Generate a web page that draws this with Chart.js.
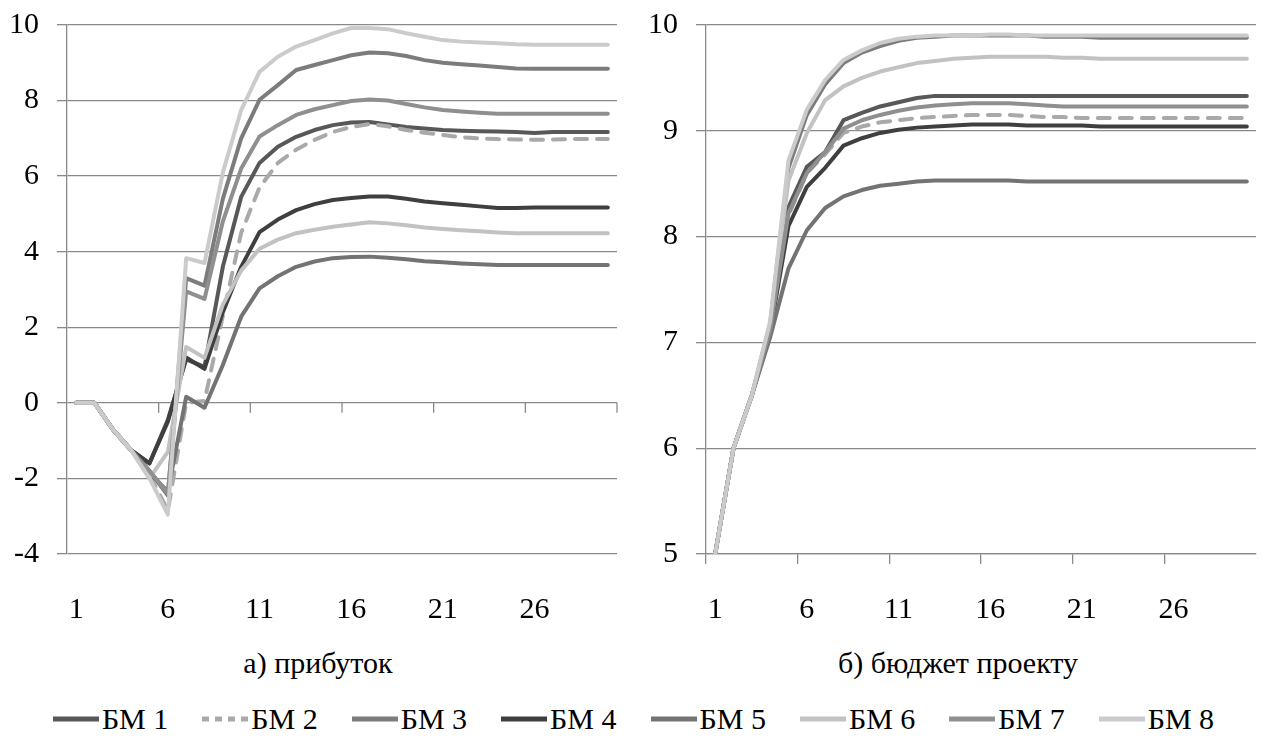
<!DOCTYPE html>
<html>
<head>
<meta charset="utf-8">
<script src="https://cdn.jsdelivr.net/npm/chart.js@4.4.1/dist/chart.umd.min.js"></script>
<style>
  body { margin: 0; background: #fff; width: 1265px; height: 747px; overflow: hidden; font-family: "Liberation Serif", "Times New Roman", "Tinos", "Nimbus Roman", "FreeSerif", serif; }
  .box { position: absolute; top: 0; height: 640px; }
  #boxA { left: 0; width: 640px; }
  #boxB { left: 640px; width: 625px; }
  .cap { position: absolute; top: 644px; font-size: 30px; line-height: 38px; text-align: center; color: #000; white-space: nowrap; }
  #legend { position: absolute; top: 700px; left: 0; width: 1265px; display: flex; justify-content: center; font-size: 30px; line-height: 38px; color: #000; }
  .item { display: flex; align-items: center; margin: 0 16px; }
  .item svg { margin-right: 1px; }
</style>
</head>
<body>
<div class="box" id="boxA"><canvas id="profitChart"></canvas></div>
<div class="box" id="boxB"><canvas id="budgetChart"></canvas></div>
<div class="cap" style="left:168px;width:300px;">а) прибуток</div>
<div class="cap" style="left:808px;width:300px;">б) бюджет проекту</div>
<div id="legend"></div>
<script>
const categories = ["1","2","3","4","5","6","7","8","9","10","11","12","13","14","15","16","17","18","19","20","21","22","23","24","25","26","27","28","29","30"];
const tickLabels = ["1","6","11","16","21","26"];
const seriesNames = ["БМ 1","БМ 2","БМ 3","БМ 4","БМ 5","БМ 6","БМ 7","БМ 8"];

// а) прибуток
const profitBM1 = [0,0,-0.7,-1.25,-1.6,-0.45,1.15,0.95,3.6,5.45,6.35,6.78,7.04,7.22,7.35,7.42,7.43,7.37,7.3,7.26,7.22,7.2,7.19,7.18,7.17,7.14,7.17,7.17,7.17,7.17];
const profitBM2 = [0,0,-0.7,-1.25,-1.9,-2.85,0.0,0.05,2.3,4.5,5.7,6.35,6.7,6.96,7.17,7.3,7.38,7.32,7.22,7.15,7.09,7.03,7.0,6.98,6.97,6.96,6.97,6.98,6.98,6.98];
const profitBM3 = [0,0,-0.7,-1.25,-1.8,-2.45,3.3,3.1,5.4,7.0,8.02,8.41,8.81,8.94,9.07,9.2,9.27,9.25,9.18,9.07,9.0,8.96,8.93,8.89,8.85,8.84,8.84,8.84,8.84,8.84];
const profitBM4 = [0,0,-0.7,-1.25,-1.6,-0.5,1.2,0.9,2.4,3.6,4.52,4.85,5.1,5.26,5.37,5.42,5.46,5.46,5.4,5.33,5.28,5.24,5.2,5.16,5.16,5.17,5.17,5.17,5.17,5.17];
const profitBM5 = [0,0,-0.7,-1.25,-1.85,-2.35,0.16,-0.13,1.0,2.28,3.03,3.35,3.6,3.74,3.83,3.86,3.87,3.84,3.8,3.75,3.72,3.69,3.67,3.65,3.65,3.65,3.65,3.65,3.65,3.65];
const profitBM6 = [0,0,-0.7,-1.25,-2.0,-1.3,1.48,1.19,2.6,3.5,4.08,4.32,4.49,4.58,4.66,4.72,4.78,4.75,4.7,4.64,4.6,4.57,4.54,4.51,4.49,4.49,4.49,4.49,4.49,4.49];
const profitBM7 = [0,0,-0.7,-1.25,-1.8,-2.4,2.95,2.75,4.8,6.2,7.05,7.35,7.62,7.77,7.88,7.99,8.03,8.0,7.91,7.82,7.75,7.71,7.68,7.65,7.65,7.65,7.65,7.65,7.65,7.65];
const profitBM8 = [0,0,-0.7,-1.25,-2.0,-2.96,3.83,3.7,6.1,7.75,8.76,9.16,9.43,9.6,9.78,9.92,9.92,9.89,9.78,9.69,9.6,9.56,9.54,9.52,9.49,9.48,9.48,9.48,9.48,9.48];

// б) бюджет проекту
const budgetBM1 = [5,6,6.5,7.12,8.28,8.66,8.8,9.1,9.17,9.23,9.27,9.31,9.33,9.33,9.33,9.33,9.33,9.33,9.33,9.33,9.33,9.33,9.33,9.33,9.33,9.33,9.33,9.33,9.33,9.33];
const budgetBM2 = [5,6,6.5,7.12,8.2,8.6,8.78,8.98,9.04,9.08,9.1,9.12,9.13,9.14,9.15,9.15,9.15,9.14,9.13,9.13,9.12,9.12,9.12,9.12,9.12,9.12,9.12,9.12,9.12,9.12];
const budgetBM3 = [5,6,6.5,7.18,8.65,9.15,9.44,9.64,9.74,9.8,9.85,9.88,9.89,9.9,9.9,9.9,9.9,9.9,9.89,9.89,9.89,9.88,9.88,9.88,9.88,9.88,9.88,9.88,9.88,9.88];
const budgetBM4 = [5,6,6.5,7.1,8.1,8.47,8.65,8.86,8.93,8.98,9.01,9.03,9.04,9.05,9.06,9.06,9.06,9.05,9.05,9.05,9.05,9.04,9.04,9.04,9.04,9.04,9.04,9.04,9.04,9.04];
const budgetBM5 = [5,6,6.5,7.05,7.7,8.06,8.27,8.38,8.44,8.48,8.5,8.52,8.53,8.53,8.53,8.53,8.53,8.52,8.52,8.52,8.52,8.52,8.52,8.52,8.52,8.52,8.52,8.52,8.52,8.52];
const budgetBM6 = [5,6,6.5,7.18,8.53,8.98,9.29,9.42,9.5,9.56,9.6,9.64,9.66,9.68,9.69,9.7,9.7,9.7,9.7,9.69,9.69,9.68,9.68,9.68,9.68,9.68,9.68,9.68,9.68,9.68];
const budgetBM7 = [5,6,6.5,7.12,8.22,8.6,8.8,9.02,9.1,9.15,9.19,9.22,9.24,9.25,9.26,9.26,9.26,9.25,9.24,9.23,9.23,9.23,9.23,9.23,9.23,9.23,9.23,9.23,9.23,9.23];
const budgetBM8 = [5,6,6.5,7.2,8.72,9.2,9.48,9.67,9.76,9.83,9.87,9.89,9.9,9.9,9.9,9.91,9.91,9.9,9.9,9.9,9.9,9.9,9.9,9.9,9.9,9.9,9.9,9.9,9.9,9.9];

const colors = ["#585858","#a9a9a9","#7c7c7c","#3f3f3f","#737373","#c2c2c2","#8f8f8f","#cbcbcb"];
const gridColor = "#8a8a8a";
const fontSpec = { family: "'Liberation Serif', 'Times New Roman', 'Tinos', 'Nimbus Roman', 'FreeSerif', serif", size: 30 };

function makeDatasets(list) {
  return list.map((data, i) => ({
    label: seriesNames[i],
    data: data,
    borderColor: colors[i],
    backgroundColor: colors[i],
    borderWidth: 4,
    borderDash: i === 1 ? [12, 10] : [],
    borderCapStyle: "round",
    borderJoinStyle: "round",
    pointRadius: 0,
    tension: 0,
    fill: false,
    order: 8 - i
  }));
}

// short tick marks on the zero line of the profit chart
const zeroTicks = {
  id: "zeroTicks",
  beforeDatasetsDraw(chart) {
    const xs = chart.scales.x, ys = chart.scales.y;
    const y0 = ys.getPixelForValue(0);
    const step = xs.getPixelForValue(1) - xs.getPixelForValue(0);
    const ctx = chart.ctx;
    ctx.save();
    ctx.strokeStyle = gridColor;
    ctx.lineWidth = 1.3;
    for (let k = 5; k <= categories.length; k += 5) {
      const px = xs.getPixelForValue(0) - step / 2 + k * step;
      ctx.beginPath();
      ctx.moveTo(px, y0);
      ctx.lineTo(px, y0 + 10);
      ctx.stroke();
    }
    ctx.restore();
  }
};

function makeChart(id, datasets, yMin, yMax, yStep, yWidth, padRight, showXTicks, plugins) {
  return new Chart(document.getElementById(id), {
    type: "line",
    data: { labels: categories, datasets: datasets },
    options: {
      responsive: true,
      maintainAspectRatio: false,
      animation: false,
      layout: { padding: { top: 25, right: padRight, bottom: 0, left: 0 } },
      plugins: { legend: { display: false }, tooltip: { enabled: false } },
      scales: {
        x: {
          offset: true,
          grid: {
            offset: true,
            drawOnChartArea: false,
            drawTicks: true,
            tickLength: 10,
            lineWidth: 1.3,
            color: (ctx) => (showXTicks && ctx.index % 5 === 0 ? gridColor : "rgba(0,0,0,0)")
          },
          border: { display: showXTicks, color: gridColor, width: 1.3 },
          ticks: {
            autoSkip: false,
            maxRotation: 0,
            padding: 28,
            color: "#000",
            font: fontSpec,
            callback: (v, i) => (tickLabels.includes(categories[i]) ? categories[i] : "")
          },
          afterFit: (s) => { s.height = 86; s.paddingLeft = 0; s.paddingRight = 0; }
        },
        y: {
          min: yMin,
          max: yMax,
          ticks: { stepSize: yStep, padding: 18, color: "#000", font: fontSpec },
          grid: { color: gridColor, lineWidth: 1.3, tickLength: 10 },
          border: { color: gridColor, width: 1.3 },
          afterFit: (s) => { s.width = yWidth; s.paddingTop = 0; s.paddingBottom = 0; }
        }
      }
    },
    plugins: plugins
  });
}

function drawAll() {
  makeChart("profitChart",
    makeDatasets([profitBM1, profitBM2, profitBM3, profitBM4, profitBM5, profitBM6, profitBM7, profitBM8]),
    -4, 10, 2, 67, 23, false, [zeroTicks]);

  makeChart("budgetChart",
    makeDatasets([budgetBM1, budgetBM2, budgetBM3, budgetBM4, budgetBM5, budgetBM6, budgetBM7, budgetBM8]),
    5, 10, 1, 66, 9, true, []);
}

// legend row
const legend = document.getElementById("legend");
seriesNames.forEach((name, i) => {
  const item = document.createElement("div");
  item.className = "item";
  const dash = i === 1 ? ' stroke-dasharray="7 6"' : "";
  item.innerHTML = `<svg width="50" height="10"><line x1="2" y1="5" x2="48" y2="5" stroke="${colors[i]}" stroke-width="5"${dash}/></svg><span>${name}</span>`;
  legend.appendChild(item);
});

// wait for the serif face so the canvas labels use it
document.fonts.load("30px 'Liberation Serif'").then(drawAll, drawAll);
</script>
</body>
</html>
